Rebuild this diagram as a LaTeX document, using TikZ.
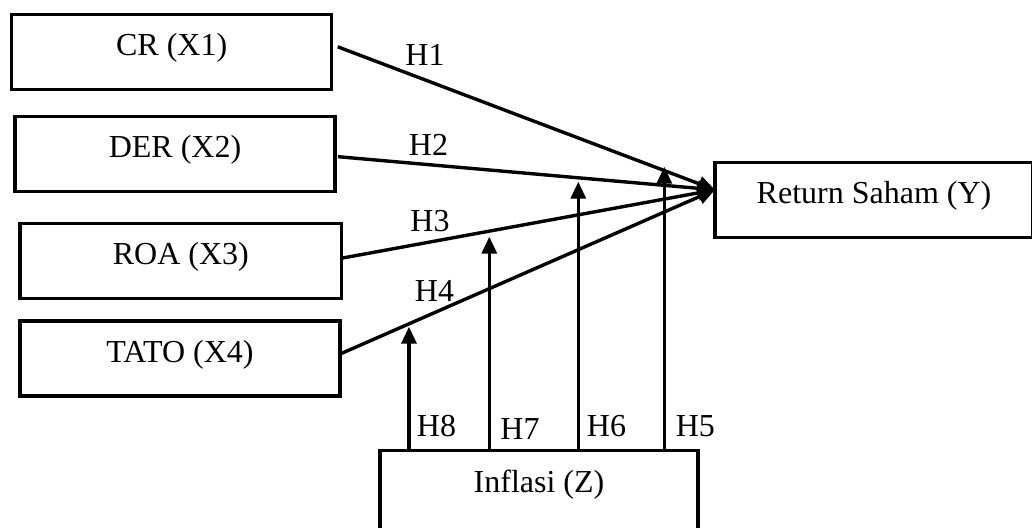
\documentclass[tikz,border=0pt]{standalone}
\usepackage{fontspec}
\setmainfont{Liberation Serif}
\usetikzlibrary{arrows.meta,calc}
\begin{document}
\begin{tikzpicture}[x=1pt,y=-1pt,
  box/.style={draw,line width=3.4pt,rectangle,outer sep=0pt,inner xsep=0pt,inner ysep=0pt,
    text height=41pt,text depth=34pt,minimum width=320pt,anchor=north west,
    font=\fontsize{32}{38}\selectfont},
  link/.style={line width=3.4pt,-{Triangle[length=17pt,width=15pt]}},
  lab/.style={font=\fontsize{32}{38}\selectfont,anchor=base,inner sep=0pt}]
\path[use as bounding box,clip] (0,0) rectangle (1032,527);

% variables
\node[box] (cr) at (11.7,14.3) {CR (X1)};
\node[box] (der) at (15,116.7) {DER (X2)};
\node[box,minimum width=321.7pt] (roa) at (20,223.3) {ROA (X3)};
\node[box] (tato) at (20,321) {TATO (X4)};
\node[box,minimum width=318pt] (ret) at (715,162.3) {Return Saham (Y)};
\node[box,minimum width=318pt,text height=42pt,text depth=45pt] (inf) at (380,450.7) {Inflasi (Z)};

% direct effects
\coordinate (hub) at ([yshift=10pt]ret.west);
\coordinate (t1) at ($(cr.east)+(6,-5)$);
\coordinate (t2) at ($(der.east)+(3,2.5)$);
\coordinate (t3) at ($(roa.east)+(1,-2.8)$);
\coordinate (t4) at ($(tato.east)+(1.7,-5.2)$);
\draw[link] (t1) -- (hub);
\draw[link] (t2) -- (hub);
\draw[link] (t3) -- (hub);
\draw[link] (t4) -- (hub);

% moderating effects
\coordinate (p8) at (409,326.7);
\coordinate (p7) at (489.3,236.7);
\coordinate (p6) at (578.3,181.7);
\coordinate (p5) at (664.3,166.7);
\draw[link] (p8 |- inf.north) -- (p8);
\draw[link] (p7 |- inf.north) -- (p7);
\draw[link] (p6 |- inf.north) -- (p6);
\draw[link] (p5 |- inf.north) -- (p5);

% hypothesis labels
\node[lab] (h1) at (425,65) {H1};
\node[lab] (h2) at (428.5,155) {H2};
\node[lab] (h3) at (430,231.7) {H3};
\node[lab] (h4) at (434.5,301.7) {H4};
\node[lab] (h8) at (436.5,436.7) {H8};
\node[lab] (h7) at (520,439) {H7};
\node[lab] (h6) at (606.5,436.7) {H6};
\node[lab] (h5) at (695.3,436.7) {H5};
\end{tikzpicture}
\end{document}
